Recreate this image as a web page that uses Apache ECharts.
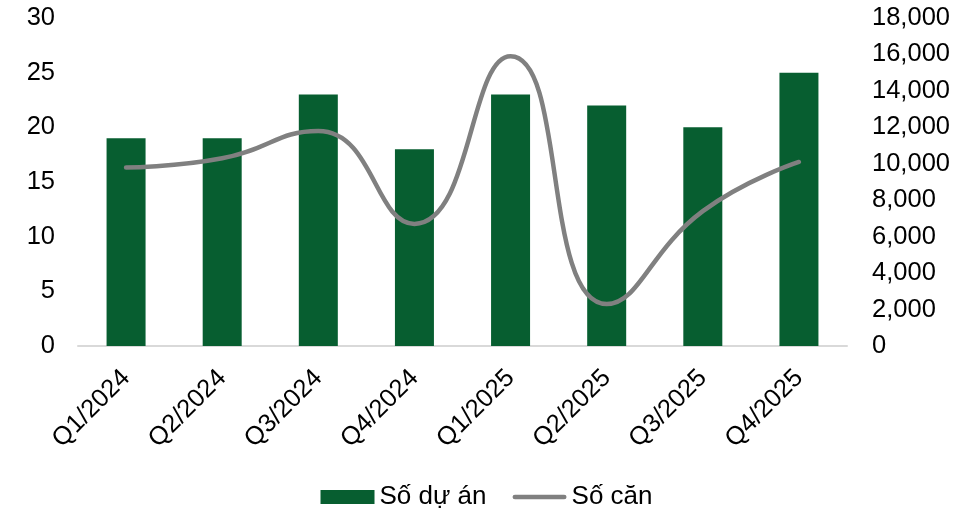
<!DOCTYPE html>
<html>
<head>
<meta charset="utf-8">
<script src="https://cdn.jsdelivr.net/npm/echarts@6/dist/echarts.min.js"></script>
<style>
  html, body { margin: 0; padding: 0; background: #fff; }
  #chart { width: 973px; height: 511px; }
</style>
</head>
<body>
<div id="chart"></div>
<script>
// Quarterly data: number of projects (bars) and number of units (line)
const quarters = ['Q1/2024', 'Q2/2024', 'Q3/2024', 'Q4/2024', 'Q1/2025', 'Q2/2025', 'Q3/2025', 'Q4/2025'];
const projectCounts = [19, 19, 23, 18, 23, 22, 20, 25];
const unitCounts = [9800, 10300, 11800, 6700, 15900, 2300, 7400, 10100];
const seriesNames = ['Số dự án', 'Số căn'];

const FONT = '"Liberation Sans", Arial, sans-serif';
const FS = 25.5;
const chart = echarts.init(document.getElementById('chart'));

// capsule-shaped legend marker for the line series
const lineIcon = 'path://M2.5,0 H54.5 A2.5,2.5 0 0 1 54.5,5 H2.5 A2.5,2.5 0 0 1 2.5,0 Z';

chart.setOption({
  animation: false,
  textStyle: { fontFamily: FONT },
  grid: { left: 78, right: 126, top: 18, bottom: 165, containLabel: false },
  legend: {
    top: 479,
    left: 'center',
    itemGap: 26,
    itemWidth: 54,
    itemHeight: 14,
    symbolKeepAspect: true,
    textStyle: { fontSize: 26, color: '#000', fontFamily: FONT },
    data: [
      { name: seriesNames[0], icon: 'rect' },
      { name: seriesNames[1], icon: lineIcon, itemStyle: { color: '#808080' } }
    ]
  },
  xAxis: {
    type: 'category',
    data: quarters,
    axisLine: { show: true, lineStyle: { color: '#d9d9d9', width: 2 } },
    axisTick: { show: false },
    axisLabel: { rotate: 45, fontSize: FS, color: '#000', margin: 28, fontFamily: FONT }
  },
  yAxis: [
    {
      type: 'value',
      min: 0, max: 30, interval: 5,
      axisLine: { show: false },
      axisTick: { show: false },
      splitLine: { show: false },
      axisLabel: { fontSize: FS, color: '#000', margin: 23, fontFamily: FONT }
    },
    {
      type: 'value',
      min: 0, max: 18000, interval: 2000,
      axisLine: { show: false },
      axisTick: { show: false },
      splitLine: { show: false },
      axisLabel: {
        fontSize: FS, color: '#000', margin: 25, fontFamily: FONT,
        formatter: v => v.toLocaleString('en-US')
      }
    }
  ],
  series: [
    {
      name: seriesNames[0],
      type: 'bar',
      yAxisIndex: 0,
      data: projectCounts,
      barWidth: 39,
      itemStyle: { color: '#075e30' }
    },
    {
      name: seriesNames[1],
      type: 'line',
      yAxisIndex: 1,
      data: unitCounts,
      smooth: 0.5,
      symbol: 'none',
      lineStyle: { color: '#808080', width: 4.5, cap: 'round' },
      itemStyle: { color: '#808080' }
    }
  ]
});
</script>
</body>
</html>
